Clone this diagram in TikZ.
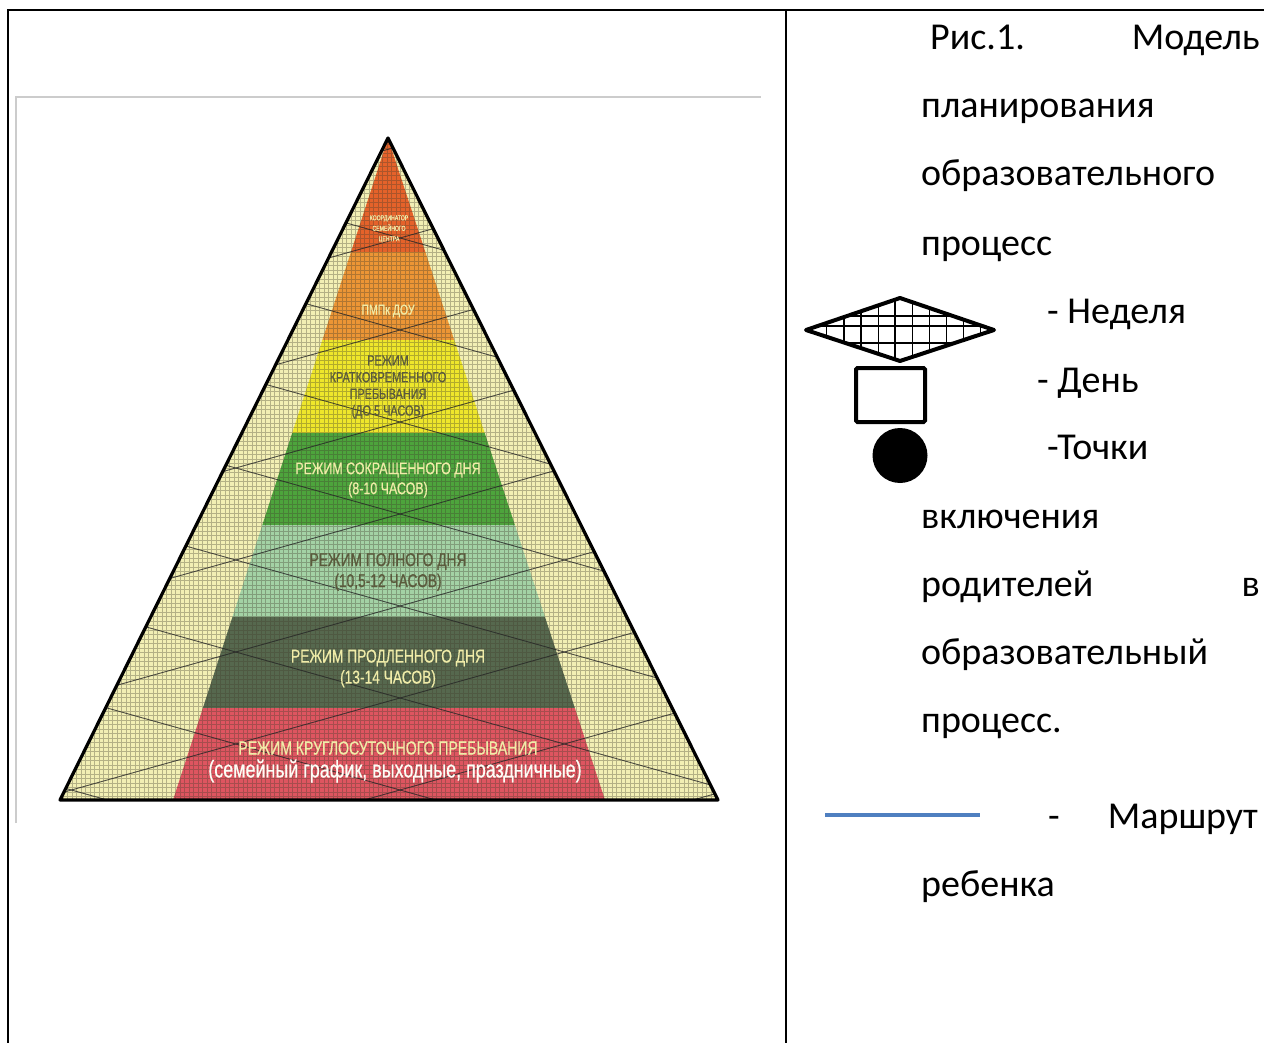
\documentclass[tikz,border=0pt]{standalone}
\usepackage{fontspec}
\setmainfont{Carlito}
\newfontfamily\narrowsf[FakeStretch=0.74,FakeBold=0.6]{Liberation Sans}
\definecolor{paleyel}{HTML}{F2EFB4}
\definecolor{topred}{HTML}{E5622A}
\definecolor{orangeb}{HTML}{EC9535}
\definecolor{yellowb}{HTML}{EEE62B}
\definecolor{greenb}{HTML}{4DA43C}
\definecolor{lgreenb}{HTML}{A3D2A5}
\definecolor{darkb}{HTML}{56684E}
\definecolor{redb}{HTML}{DE5560}
\definecolor{paletxt}{HTML}{F0ECA8}
\definecolor{darktxt}{HTML}{5A5A3C}
\definecolor{routeblue}{HTML}{4F7FC0}
\begin{document}
\begin{tikzpicture}[x=1pt,y=-1pt,
  legend/.style={anchor=base west,inner sep=0pt,font=\fontsize{38}{40}\selectfont},
  lab/.style={align=center,inner sep=0pt,text=paletxt,font=\narrowsf\fontsize{18.6}{21}\selectfont},
  labdark/.style={lab,text=darktxt},
  gridline/.style={draw=black!70!olive,opacity=0.35,line width=0.6pt},
  hatch/.style={draw=black!85,line width=0.9pt,opacity=0.8},
  rule/.style={line width=2.5pt}]
\useasboundingbox (0,0) rectangle (1264,1043);
% table
\draw[rule] (8,1043) -- (8,10) -- (1264,10);
\draw[rule] (786,10) -- (786,1043);
\draw[black!20,line width=1.5pt] (16,823) -- (16,97) -- (761,97);
% pyramid
\coordinate (apex) at (388,138);
\coordinate (bl) at (60,800);
\coordinate (br) at (718,800);
\fill[paleyel] (apex) -- (bl) -- (br) -- cycle;
\begin{scope}
  \clip (388,138) -- (173,800) -- (605,800) -- cycle;
  \fill[topred] (0,130) rectangle (800,252);
  \fill[orangeb] (0,252) rectangle (800,340);
  \fill[yellowb] (0,340) rectangle (800,433);
  \fill[greenb] (0,433) rectangle (800,525);
  \fill[lgreenb] (0,525) rectangle (800,617);
  \fill[darkb] (0,617) rectangle (800,708);
  \fill[redb] (0,708) rectangle (800,800);
\end{scope}
\begin{scope}
  \clip (apex) -- (bl) -- (br) -- cycle;
  \draw[gridline,step=4.5pt] (40,130) grid (740,805);
  \foreach \c in {-150,-58,...,900}
    {\draw[hatch] (0,\c) -- (800,\c+224);
     \draw[hatch] (0,\c+224) -- (800,\c);}
\end{scope}
\node[lab,font=\narrowsf\fontsize{7}{10.5}\selectfont] (tcenter) at (389,229) {КООРДИНАТОР\\СЕМЕЙНОГО\\ЦЕНТРА};
\node[lab,font=\narrowsf\fontsize{14.2}{18}\selectfont] (tpmpk) at (388,311) {ПМПк ДОУ};
\node[labdark,font=\narrowsf\fontsize{14.7}{16.7}\selectfont] (tshort) at (388,387) {РЕЖИМ\\КРАТКОВРЕМЕННОГО\\ПРЕБЫВАНИЯ\\(ДО 5 ЧАСОВ)};
\node[lab,font=\narrowsf\fontsize{16.8}{20}\selectfont] (tcut) at (388,480) {РЕЖИМ СОКРАЩЕННОГО ДНЯ\\(8-10 ЧАСОВ)};
\node[labdark] (tfull) at (388,572) {РЕЖИМ ПОЛНОГО ДНЯ\\(10,5-12 ЧАСОВ)};
\node[lab] (tlong) at (388,668.5) {РЕЖИМ ПРОДЛЕННОГО ДНЯ\\(13-14 ЧАСОВ)};
\node[lab,font=\narrowsf\fontsize{19}{21}\selectfont] (tround) at (388,748) {РЕЖИМ КРУГЛОСУТОЧНОГО ПРЕБЫВАНИЯ};
\node[lab,text=white!90!paletxt,font=\narrowsf\fontsize{24.2}{26}\selectfont] (tfamily) at (395,771) {(семейный график, выходные, праздничные)};
\draw[line width=3.2pt,line join=round] (apex) -- (bl) -- (br) -- cycle;
% legend
\node[legend] (cap1) at (930,50) {Рис.1.};
\node[legend,anchor=base east] (cap2) at (1260,50) {Модель};
\node[legend] (cap3) at (921,118) {планирования};
\node[legend] (cap4) at (921,186) {образовательного};
\node[legend] (cap5) at (921,255) {процесс};
\begin{scope}
  \clip (806,330) -- (900,298) -- (994,330) -- (900,361) -- cycle;
  \foreach \gx in {826.7,844,861,878.3,895,912.3,929.3,946.7,963.3,980.7}
    \draw[line width=1.3pt] (\gx,290) -- (\gx,370);
  \foreach \gy in {316,326,343}
    \draw[line width=1.3pt] (800,\gy) -- (1000,\gy);
\end{scope}
\draw[line width=4pt,line join=round] (806,330) -- (900,298) -- (994,330) -- (900,361) -- cycle;
\node[legend] (week) at (1047,323) {- Неделя};
\draw[line width=4pt,rounded corners=1.5pt] (856,368) rectangle (925,422);
\node[legend] (day) at (1037,392) {- День};
\fill (900,455.5) circle (27.5);
\node[legend] (pts) at (1047,459) {-Точки};
\node[legend] (inc) at (921,528) {включения};
\node[legend] (par1) at (921,596) {родителей};
\node[legend,anchor=base east] (par2) at (1260,596) {в};
\node[legend] (edu) at (921,664) {образовательный};
\node[legend] (proc) at (921,732) {процесс.};
\coordinate (routeA) at (825,815);
\coordinate (routeB) at (980,815);
\draw[routeblue,line width=4pt] (routeA) -- (routeB);
\node[legend] (dash) at (1048,828) {-};
\node[legend,anchor=base east] (route) at (1258,828) {Маршрут};
\node[legend] (child) at (921,896) {ребенка};
\end{tikzpicture}
\end{document}
